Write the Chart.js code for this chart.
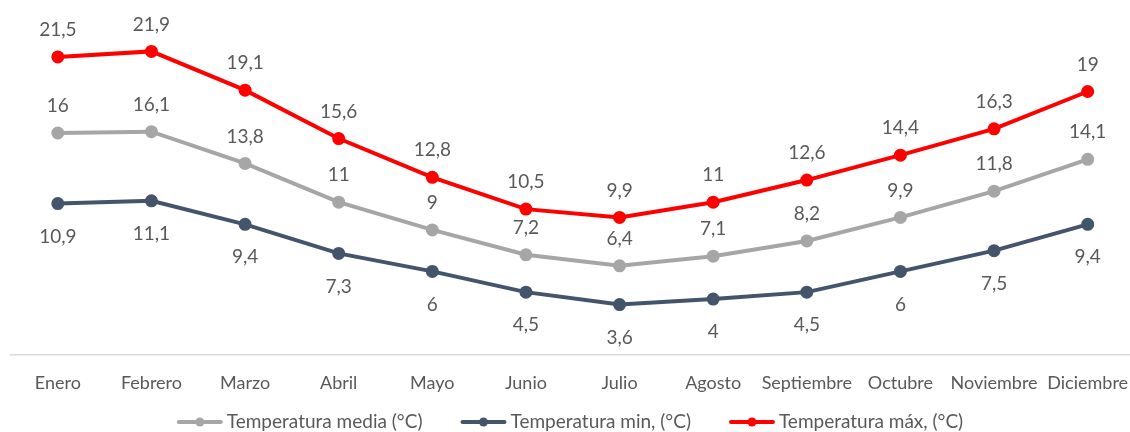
<!DOCTYPE html>
<html>
<head>
<meta charset="utf-8">
<script src="https://cdn.jsdelivr.net/npm/chart.js@4"></script>
<style>
  html, body { margin: 0; padding: 0; background: #fff; overflow: hidden; }
  canvas { display: block; }
</style>
</head>
<body>
<canvas id="graf" width="1143" height="432"></canvas>
<script>
// meses
const meses = ['Enero', 'Febrero', 'Marzo', 'Abril', 'Mayo', 'Junio', 'Julio',
    'Agosto', 'Septiembre', 'Octubre', 'Noviembre', 'Diciembre'];

// temperaturas (°C)
const tMedia = [16, 16.1, 13.8, 11, 9, 7.2, 6.4, 7.1, 8.2, 9.9, 11.8, 14.1];
const tMin = [10.9, 11.1, 9.4, 7.3, 6, 4.5, 3.6, 4, 4.5, 6, 7.5, 9.4];
const tMax = [21.5, 21.9, 19.1, 15.6, 12.8, 10.5, 9.9, 11, 12.6, 14.4, 16.3, 19];

const FONT = 'Lato, "Open Sans", sans-serif';
const GRIS = '#595959';

function serie(label, data, color, pos) {
    return {
        label: label,
        data: data,
        borderColor: color,
        backgroundColor: color,
        borderWidth: 4,
        pointRadius: 4.5,
        pointHoverRadius: 4.5,
        tension: 0,
        etiqueta: pos
    };
}

// etiquetas de datos
const etiquetas = {
    id: 'etiquetas',
    afterDatasetsDraw(chart) {
        const ctx = chart.ctx;
        ctx.save();
        ctx.font = '19px ' + FONT;
        ctx.fillStyle = GRIS;
        ctx.textAlign = 'center';
        ctx.textBaseline = 'middle';
        chart.data.datasets.forEach((ds, i) => {
            const meta = chart.getDatasetMeta(i);
            meta.data.forEach((pt, j) => {
                const txt = String(ds.data[j]).replace('.', ',');
                const dy = ds.etiqueta === 'abajo' ? 33 : -27;
                ctx.fillText(txt, pt.x, pt.y + dy);
            });
        });
        ctx.restore();
    }
};

// leyenda propia: linea con punto + texto (centrada en la ventana de 1130)
const leyenda = {
    id: 'leyenda',
    afterDraw(chart) {
        const ctx = chart.ctx;
        const y = 422;
        ctx.save();
        ctx.font = '19px ' + FONT;
        ctx.textBaseline = 'middle';
        ctx.textAlign = 'left';
        const anchoIcono = 46, hueco = 4, sep = 38;
        const items = chart.data.datasets.map(ds => ({
            ds: ds,
            w: anchoIcono + hueco + ctx.measureText(ds.label).width
        }));
        const total = items.reduce((s, it) => s + it.w, 0) + sep * (items.length - 1);
        let x = 570 - total / 2;
        items.forEach(it => {
            const color = it.ds.borderColor;
            ctx.strokeStyle = color;
            ctx.lineWidth = 4;
            ctx.lineCap = 'round';
            ctx.beginPath();
            ctx.moveTo(x + 2, y);
            ctx.lineTo(x + anchoIcono - 2, y);
            ctx.stroke();
            ctx.fillStyle = color;
            ctx.beginPath();
            ctx.arc(x + anchoIcono / 2, y, 4.5, 0, Math.PI * 2);
            ctx.fill();
            ctx.fillStyle = GRIS;
            ctx.fillText(it.ds.label, x + anchoIcono + hueco, y);
            x += it.w + sep;
        });
        ctx.restore();
    }
};

const config = {
    type: 'line',
    data: {
        labels: meses,
        datasets: [
            serie('Temperatura media (°C)', tMedia, '#a6a6a6', 'arriba'),
            serie('Temperatura min, (°C)', tMin, '#44546a', 'abajo'),
            serie('Temperatura máx, (°C)', tMax, '#ff0000', 'arriba')
        ]
    },
    options: {
        responsive: false,
        animation: false,
        layout: {
            padding: { left: 11, right: -4, top: 4, bottom: 20 }
        },
        plugins: {
            tooltip: { enabled: false },
            legend: { display: false }
        },
        scales: {
            x: {
                offset: true,
                grid: { display: false, drawTicks: false },
                border: { display: true, color: '#d9d9d9', width: 1.5 },
                ticks: {
                    color: GRIS,
                    font: { family: FONT, size: 18 },
                    padding: 18,
                    maxRotation: 0,
                    autoSkip: false
                },
                afterFit: s => {
                    s.paddingLeft = 0;
                    s.paddingRight = 0;
                }
            },
            y: {
                display: false,
                min: 0,
                max: 25
            }
        }
    },
    plugins: [etiquetas, leyenda]
};

const grafico = new Chart(document.getElementById('graf'), config);
</script>
</body>
</html>
